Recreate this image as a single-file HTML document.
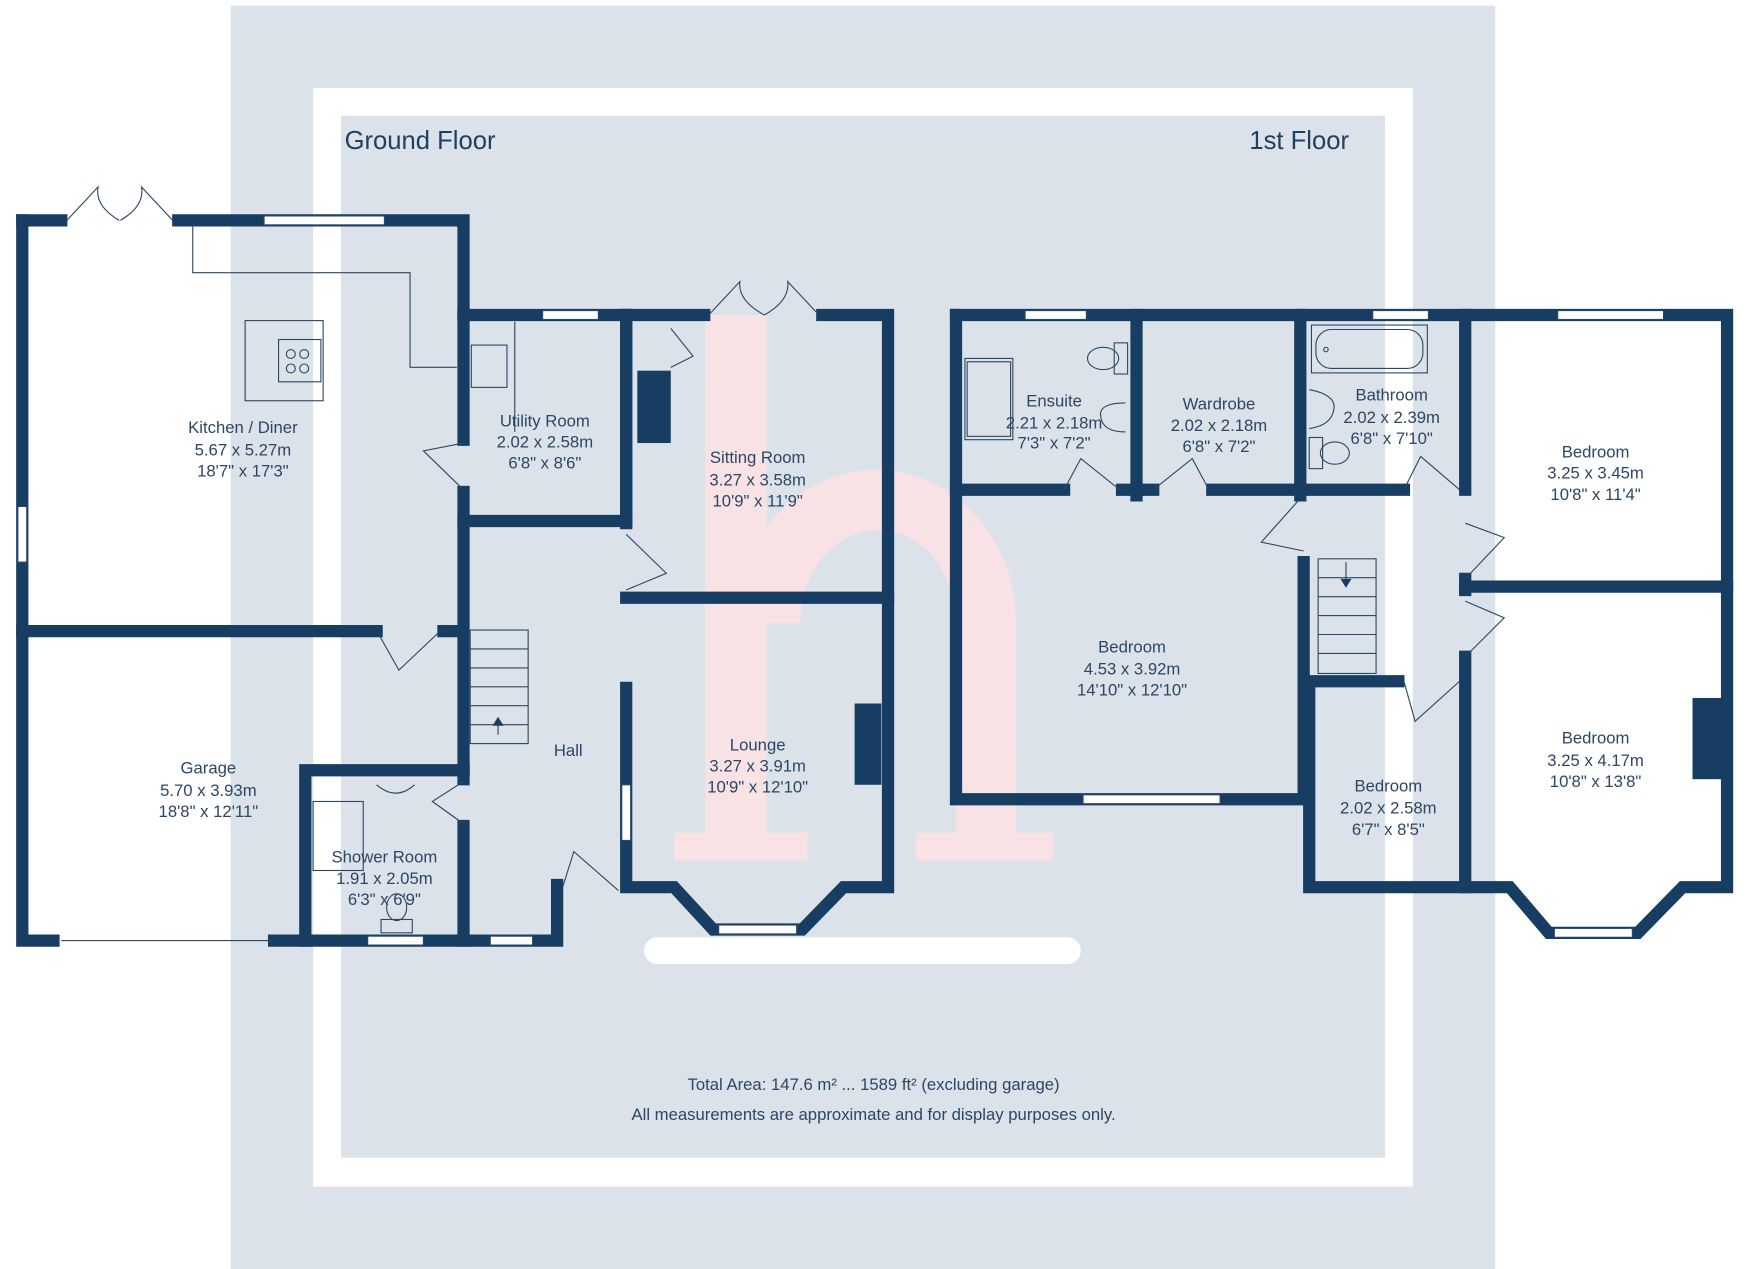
<!DOCTYPE html>
<html><head><meta charset="utf-8"><style>
html,body{margin:0;padding:0;background:#fff;}
svg{display:block}
text{font-family:"Liberation Sans",sans-serif;fill:#2b4766;text-anchor:middle;font-size:15px}
</style></head><body>
<svg width="1746" height="1269" viewBox="0 0 1567 1140" preserveAspectRatio="none" xmlns="http://www.w3.org/2000/svg">
<rect x="0" y="0" width="1567" height="1140" fill="#fff"/>
<rect x="207" y="5" width="1135" height="1135" fill="#dce2e9"/>
<rect x="281" y="79" width="987" height="987" fill="#fff"/>
<rect x="306" y="104" width="937" height="936" fill="#dce2e9"/>
<g fill="#fde2e4" opacity="0.85">
<rect x="633" y="283" width="55" height="490"/>
<rect x="605" y="748" width="120" height="25"/>
<path d="M660 560 A126 138 0 0 1 912 560 L912 773 L858 773 L858 560 A70 84 0 0 0 718 560 Z"/>
<rect x="822" y="748" width="123" height="25"/>
</g>
<rect x="578" y="842" width="392" height="24" rx="12" fill="#fff"/>
<text x="377" y="134" style="font-size:23px;fill:#1f3f63">Ground Floor</text>
<text x="1166" y="134" style="font-size:23px;fill:#1f3f63">1st Floor</text>

<g stroke="#173d63" stroke-width="11" fill="none" stroke-linecap="square">
<path d="M20 198 H55"/><path d="M160 198 H416 V283"/>
<path d="M20 198 V845 H48"/>
<path d="M416 283 V395"/><path d="M416 442 V690"/>
<path d="M20 567 H338"/><path d="M398 567 H410"/>
<path d="M246 845 H500 V795"/>
<path d="M274 845 V692 H416"/>
<path d="M416 692 V700"/><path d="M416 742 V845"/>
<path d="M416 283 H632"/><path d="M562 283 V465"/><path d="M416 468 H562"/>
<path d="M738 283 H797 V797 H757 L720 835 H640 L605 797 H562 V618"/>
<path d="M562 283 V470"/>
<path d="M562 537 H797"/>
<path d="M858 283 H1550 V797 H1510 L1470 838 H1390 L1355 797 H1175 V612 H1255"/>
<path d="M858 283 V718 H1170 V505"/>
<path d="M1020 283 V445"/><path d="M1167 283 V445"/>
<path d="M858 440 H955"/><path d="M1007 440 H1035"/><path d="M1088 440 H1260"/>
<path d="M1315 283 V440"/><path d="M1315 520 V530"/><path d="M1315 590 V797"/>
<path d="M1315 527 H1550"/>
</g>
<g fill="#173d63">
<rect x="572" y="333" width="30" height="65"/>
<rect x="767" y="632" width="24" height="73"/>
<rect x="1519" y="627" width="27" height="73"/>
</g>
<g fill="#fff" stroke="#2b4766" stroke-width="1">
<rect x="237" y="194" width="108" height="8"/>
<rect x="487" y="279" width="50" height="8"/>
<rect x="16" y="455" width="8" height="50"/>
<rect x="330" y="841" width="50" height="8"/>
<rect x="440" y="841" width="38" height="8"/>
<rect x="558" y="705" width="8" height="50"/>
<rect x="645" y="831" width="70" height="8"/>
<rect x="920" y="279" width="55" height="8"/>
<rect x="1232" y="279" width="50" height="8"/>
<rect x="1398" y="279" width="95" height="8"/>
<rect x="972" y="714" width="123" height="8"/>
<rect x="1395" y="834" width="70" height="8"/>
</g>
<g stroke="#2b4766" stroke-width="1" fill="none">
<line x1="55" y1="845" x2="246" y2="845"/>
<path d="M173 203 V245 H368 V330 H410"/>
<rect x="220" y="288" width="70" height="72"/><rect x="250" y="305" width="38" height="38"/>
<circle cx="261" cy="318" r="4"/><circle cx="273" cy="318" r="4"/><circle cx="261" cy="331" r="4"/><circle cx="273" cy="331" r="4"/>
<rect x="423" y="310" width="32" height="38"/><path d="M462 289 V388"/>
<path d="M60 198 L88 168 Q85 185 107 198 M155 198 L127 168 Q130 185 108 198"/>
<path d="M636 283 L664 253 Q662 270 686 283 M735 283 L707 253 Q709 270 686 283"/>
<path d="M416 398 L380 405 L416 440"/>
<path d="M340 570 L358 602 L395 567"/>
<path d="M562 480 L598 515 L562 530"/>
<path d="M416 702 L388 720 L416 740"/>
<path d="M505 797 L515 765 L555 800"/>
<path d="M602 295 L622 320 L602 330"/>
<path d="M955 440 L970 412 L1005 440"/>
<path d="M1035 440 L1070 412 L1085 440"/>
<path d="M1165 450 L1132 487 L1170 495"/>
<path d="M1260 440 L1275 410 L1310 440"/>
<path d="M1315 470 L1350 483 L1315 520"/>
<path d="M1315 540 L1350 555 L1315 590"/>
<path d="M1260 612 L1270 648 L1310 612"/>
<rect x="422" y="566" width="52" height="102"/>
<path d="M422 583 H474 M422 600 H474 M422 617 H474 M422 634 H474 M422 651 H474 M447 660 V645"/>
<rect x="1183" y="502" width="52" height="103"/>
<path d="M1183 519 H1235 M1183 536 H1235 M1183 553 H1235 M1183 570 H1235 M1183 587 H1235 M1208 505 V525"/>
<rect x="1177" y="292" width="104" height="43"/><rect x="1181" y="296" width="96" height="35" rx="14"/>
<circle cx="1190" cy="314" r="2"/>
<path d="M1175 350 Q1200 355 1197 368 Q1195 382 1175 385"/>
<rect x="1175" y="393" width="12" height="28"/><ellipse cx="1198" cy="407" rx="13" ry="10"/>
<rect x="866" y="322" width="43" height="73"/><rect x="868" y="325" width="39" height="67"/>
<rect x="1000" y="308" width="12" height="28"/><ellipse cx="990" cy="322" rx="14" ry="10"/>
<path d="M1010 362 Q985 362 988 375 Q990 388 1010 388"/>
<rect x="281" y="720" width="45" height="62"/>
<path d="M338 705 Q355 720 372 705"/>
<rect x="342" y="826" width="28" height="12"/><ellipse cx="356" cy="815" rx="9" ry="12"/>
</g>
<polygon points="442,652 452,652 447,644" fill="#173d63"/>
<polygon points="1203,520 1213,520 1208,528" fill="#173d63"/>

<text x="218" y="389">Kitchen / Diner</text><text x="218" y="409">5.67 x 5.27m</text><text x="218" y="428">18'7" x 17'3"</text>
<text x="489" y="383">Utility Room</text><text x="489" y="402">2.02 x 2.58m</text><text x="489" y="421">6'8" x 8'6"</text>
<text x="680" y="416">Sitting Room</text><text x="680" y="436">3.27 x 3.58m</text><text x="680" y="455">10'9" x 11'9"</text>
<text x="187" y="695">Garage</text><text x="187" y="715">5.70 x 3.93m</text><text x="187" y="734">18'8" x 12'11"</text>
<text x="510" y="679">Hall</text>
<text x="680" y="674">Lounge</text><text x="680" y="693">3.27 x 3.91m</text><text x="680" y="712">10'9" x 12'10"</text>
<text x="345" y="775">Shower Room</text><text x="345" y="794">1.91 x 2.05m</text><text x="345" y="813">6'3" x 6'9"</text>
<text x="946" y="365">Ensuite</text><text x="946" y="385">2.21 x 2.18m</text><text x="946" y="403">7'3" x 7'2"</text>
<text x="1094" y="368">Wardrobe</text><text x="1094" y="387">2.02 x 2.18m</text><text x="1094" y="406">6'8" x 7'2"</text>
<text x="1249" y="360">Bathroom</text><text x="1249" y="380">2.02 x 2.39m</text><text x="1249" y="399">6'8" x 7'10"</text>
<text x="1432" y="411">Bedroom</text><text x="1432" y="430">3.25 x 3.45m</text><text x="1432" y="449">10'8" x 11'4"</text>
<text x="1016" y="586">Bedroom</text><text x="1016" y="606">4.53 x 3.92m</text><text x="1016" y="625">14'10" x 12'10"</text>
<text x="1432" y="668">Bedroom</text><text x="1432" y="688">3.25 x 4.17m</text><text x="1432" y="707">10'8" x 13'8"</text>
<text x="1246" y="711">Bedroom</text><text x="1246" y="731">2.02 x 2.58m</text><text x="1246" y="750">6'7" x 8'5"</text>
<text x="784" y="979">Total Area: 147.6 m² ... 1589 ft² (excluding garage)</text>
<text x="784" y="1006">All measurements are approximate and for display purposes only.</text>
</svg>
</body></html>
